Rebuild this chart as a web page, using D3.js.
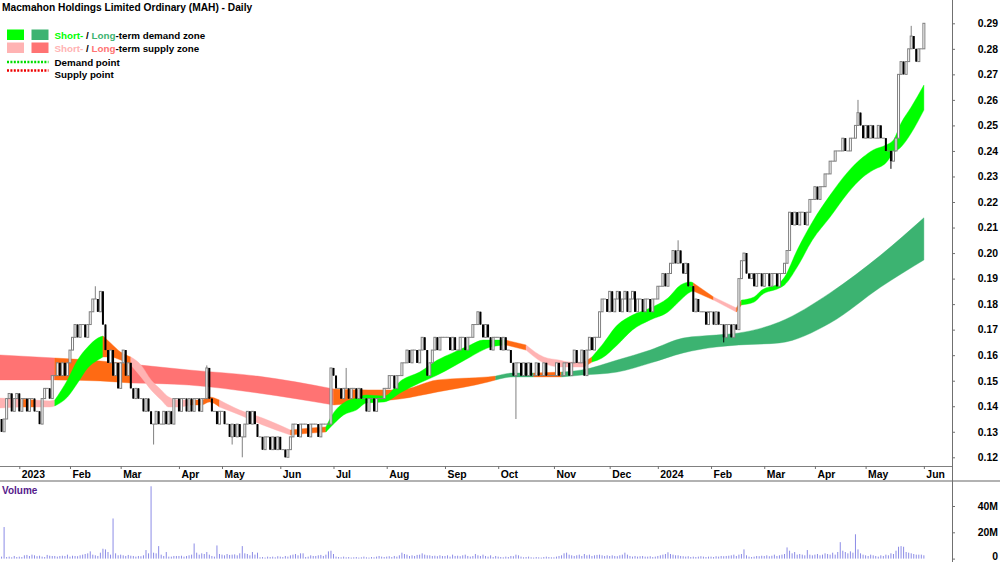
<!DOCTYPE html>
<html>
<head>
<meta charset="utf-8">
<script src="https://cdn.jsdelivr.net/npm/d3@7"></script>
<style>
  body { margin: 0; background: #fff; }
  svg { display: block; font-family: "Liberation Sans", Arial, sans-serif; font-weight: bold; }
</style>
</head>
<body>
<svg id="chart" width="1000" height="562"></svg>
<script>
// trading-day index 0 = 3 Jan 2023, bars start at -7 (late Dec 2022)
var firstDay = -7;
var firstOpen = 0.135;

// daily closes, one line per month
var closes = [
  .130,.135,.143,.145,.138,.143,.145,                                                        // Dec 22
  .138,.143,.143,.138,.143,.143,.138,.138,.133,.143,.147,.147,.143,.152,.152,.157,.152,.157,.152,.157, // Jan
  .162,.167,.172,.167,.172,.172,.167,.172,.177,.182,.182,.177,.185,.172,.162,.157,.162,.152,.157,.147, // Feb
  .157,.162,.152,.157,.147,.143,.147,.143,.143,.138,.143,.138,.133,.133,.138,.133,.133,.138,.133,.138,.133,.143,.143, // Mar
  .138,.143,.143,.138,.143,.138,.143,.143,.138,.143,.143,.155,.143,.138,.138,.133,.138,      // Apr
  .138,.133,.133,.128,.133,.128,.133,.128,.128,.133,.138,.133,.138,.133,.128,.128,.123,.128,.128,.123,.128,.123,.128, // May
  .123,.123,.120,.123,.128,.133,.133,.128,.133,.133,.133,.128,.133,.133,.133,.128,.133,.133,.133,.133,.155, // Jun
  .152,.147,.147,.143,.147,.147,.143,.147,.147,.143,.147,.143,.143,.138,.143,.143,.138,.143,.143,.143,.147, // Jul
  .147,.152,.152,.147,.152,.152,.157,.157,.162,.157,.162,.162,.157,.162,.167,.162,.152,.157,.162,.167,.162,.167,.167, // Aug
  .167,.167,.162,.167,.162,.162,.167,.167,.162,.167,.167,.172,.172,.177,.172,.167,.172,.167,.162,.167,.167, // Sep
  .167,.162,.167,.162,.162,.157,.152,.157,.157,.152,.157,.152,.157,.152,.152,.157,.152,.152,.157,.152,.152,.152, // Oct
  .152,.157,.152,.152,.157,.157,.152,.157,.162,.157,.157,.162,.152,.162,.167,.162,.167,.167,.177,.182,.182,.177, // Nov
  .185,.177,.182,.185,.177,.182,.185,.177,.182,.185,.177,.182,.182,.177,.182,.182,.177,.182,.182, // Dec
  .187,.187,.192,.187,.192,.196,.201,.196,.201,.196,.192,.196,.187,.187,.177,.182,.177,.177,.177,.172,.177, // Jan 24
  .177,.172,.177,.172,.172,.167,.172,.172,.167,.172,.170,.190,.197,.200,.192,.190,.192,.187,.192,.192,.187, // Feb
  .192,.192,.187,.192,.192,.187,.192,.192,.196,.201,.216,.211,.216,.211,.216,.216,.211,.216,.221,.221, // Mar
  .226,.221,.226,.226,.231,.231,.236,.236,.240,.240,.240,.245,.240,.240,.245,.245,.250,.255,.250,.245, // Apr
  .250,.245,.250,.245,.245,.250,.245,.245,.240,.240,.236,.240,.245,.270,.275,.270,.275,.280,.285,.280,.275,.280,.280, // May
  .290                                                                                        // Jun
];

// wicks beyond the body
var spikeDays  = [30, 53, 74, 84, 88, 129, 196, 260, 278, 331, 344, 352];
var spikeHighs = [0.187, null, 0.156, null, null, 0.155, null, 0.205, null, 0.26, null, 0.289];
var spikeLows  = [null, 0.125, null, 0.125, 0.120, null, 0.135, null, 0.165, null, 0.233, null];

// volume in millions
var volumes = [
  1.5,24,1.2,1.5,1.0,2.0,1.2,
  1.5,1.2,2.5,2.8,2.0,3.0,2.5,1.8,2.2,1.5,1.2,2.8,2.2,2.0,2.0,1.5,2.0,2.2,2.0,3.0,
  1.5,2.2,2.0,1.8,2.5,3.0,3.5,4.0,5.5,3.0,2.5,2.0,4.5,7.5,7.0,5.0,3.0,30.5,4.0,2.5,
  3.0,2.5,2.0,2.8,2.2,2.0,1.5,2.0,1.8,2.5,6.5,4.0,55,4.5,4.0,9.5,3.0,2.0,5.0,1.5,1.5,2.0,2.0,
  2.0,2.2,1.5,2.0,2.5,3.0,11.5,4.5,3.0,4.0,3.5,5.0,3.0,2.0,1.5,10.0,3.5,
  3.0,2.5,3.5,2.8,3.0,3.2,2.5,4.0,9.5,4.0,3.5,2.5,5.0,3.0,4.5,1.0,1.2,0.8,1.5,1.2,1.5,1.0,1.8,
  1.5,1.2,2.0,1.5,2.5,3.0,3.5,2.5,4.0,4.0,1.2,1.5,2.5,2.0,2.0,2.5,2.8,2.0,3.0,5.5,6.0,
  3.5,1.5,1.2,1.0,1.5,1.0,1.2,0.8,1.0,1.2,0.8,1.0,1.5,1.0,0.8,1.2,1.0,1.5,2.0,1.5,1.2,
  1.5,1.8,1.2,2.0,1.5,2.5,4.5,3.5,3.0,2.0,2.5,2.0,2.8,3.0,4.0,3.0,2.5,2.5,2.0,2.2,1.8,2.5,2.0,
  2.0,2.5,1.5,3.0,2.0,2.2,1.8,2.5,3.0,2.0,1.5,2.0,3.5,2.5,2.0,3.0,2.0,1.5,2.5,1.2,2.0,
  1.5,1.2,1.0,1.5,1.2,2.0,1.8,3.0,2.5,1.5,1.0,1.2,1.5,1.0,0.8,1.2,1.0,0.8,1.2,1.5,1.2,1.0,
  1.0,1.5,2.0,2.5,4.0,4.5,3.0,2.5,2.0,2.5,3.0,2.0,3.5,2.5,3.0,2.0,2.5,2.8,3.0,2.5,2.0,2.5,
  2.0,2.5,2.0,1.8,2.5,3.0,4.5,3.0,2.0,1.5,2.0,1.5,1.8,2.0,1.5,1.5,1.8,1.2,1.5,
  2.0,2.5,3.0,3.5,4.8,3.5,3.0,2.5,2.5,2.0,1.8,1.5,1.8,1.2,1.5,1.2,1.5,1.8,1.5,1.2,1.5,
  1.5,1.2,1.8,1.5,2.0,1.8,2.0,2.2,2.5,3.0,2.0,3.0,3.5,7.0,2.5,1.5,1.2,1.5,2.0,1.8,2.2,
  2.0,2.5,1.8,2.2,3.0,2.0,2.5,3.0,3.5,8.5,6.0,4.0,5.0,3.0,3.5,3.0,2.5,6.5,3.0,2.5,
  3.0,3.5,2.5,3.0,4.0,3.5,3.0,4.5,3.0,5.0,12.5,6.0,5.0,4.0,5.5,4.5,18.5,7.0,4.0,3.0,
  2.5,2.0,3.0,2.5,2.0,1.5,2.5,2.0,3.0,2.5,4.0,3.5,6.0,9.0,9.5,9.0,5.0,4.5,4.0,3.5,3.0,3.0,3.0,
  2.5
];

// short-term zone edges (sampled)
var stDays = [-8,0,6,12,14,19,23,27,31,33,36,40,44,48,52,56,59,63,67,72,75,79,87,96,107,115,121,124,128,133,137,144,151,158,165,171,178,183,186,192,200,207,213,217,223,226,230,236,242,249,256,261,265,266,274,283,285,290,293,300,302,307,313,320,327,333,337,342,345,348,352,357];
var stTop = [.1432,.1428,.1424,.1421,.1424,.1503,.1581,.1632,.1667,.1675,.1648,.1612,.1593,.1562,.1503,.1464,.1436,.1424,.1424,.1424,.1436,.1424,.1385,.1354,.1307,.1315,.1319,.1374,.1413,.1432,.1444,.1440,.1503,.1534,.1581,.1609,.1640,.1659,.1659,.1659,.1640,.1593,.1581,.1573,.1573,.1593,.1640,.1718,.1757,.1785,.1824,.1875,.1887,.1883,.1828,.1785,.1816,.1828,.1855,.1883,.1906,.2012,.2122,.2227,.2318,.2376,.2404,.2423,.2443,.2509,.2572,.2658];
var stBot = [.1393,.1397,.1397,.1397,.1401,.1436,.1491,.1550,.1581,.1593,.1593,.1581,.1562,.1515,.1464,.1424,.1397,.1397,.1405,.1405,.1417,.1397,.1366,.1327,.1287,.1295,.1299,.1330,.1366,.1385,.1413,.1417,.1456,.1491,.1522,.1554,.1593,.1620,.1632,.1640,.1620,.1569,.1554,.1554,.1554,.1573,.1589,.1640,.1699,.1738,.1769,.1816,.1848,.1851,.1816,.1769,.1797,.1808,.1836,.1863,.1875,.1945,.2051,.2141,.2235,.2298,.2325,.2353,.2392,.2415,.2470,.2560];
// d = demand, s = supply, n = neutral
var stRuns = [[-8,0,"s"],[0,6,"n"],[6,14,"s"],[14,33,"d"],[33,44,"n"],[44,67,"s"],[67,79,"n"],[79,107,"s"],[107,121,"n"],[121,192,"d"],[192,200,"n"],[200,223,"s"],[223,226,"n"],[226,266,"d"],[266,274,"n"],[274,283,"s"],[283,285,"n"],[285,357,"d"]];

// long-term zone edges (sampled)
var ltDays = [-8,14,32,44,67,94,124,138,150,165,185,188,195,203,214,222,236,249,262,275,284,300,320,340,357];
var ltTop = [.1601,.1589,.1577,.1565,.1542,.1518,.1468,.1464,.1464,.1503,.1515,.1518,.1530,.1530,.1534,.1542,.1581,.1620,.1667,.1679,.1687,.1730,.1844,.1992,.2138];
var ltBot = [.1503,.1503,.1499,.1491,.1483,.1452,.1405,.1417,.1428,.1456,.1495,.1503,.1515,.1515,.1515,.1522,.1534,.1569,.1609,.1632,.1640,.1648,.1726,.1867,.1973];
var ltRuns = [[-8,14,"s"],[14,44,"n"],[44,124,"s"],[124,188,"n"],[188,203,"d"],[203,214,"n"],[214,357,"d"]];

var monthTicks = [0,20,40,63,80,103,124,145,168,189,211,233,252,273,294,314,334,357];
var monthLabels = ["2023","Feb","Mar","Apr","May","Jun","Jul","Aug","Sep","Oct","Nov","Dec","2024","Feb","Mar","Apr","May","Jun"];
var priceTicks = [0.12,0.13,0.14,0.15,0.16,0.17,0.18,0.19,0.20,0.21,0.22,0.23,0.24,0.25,0.26,0.27,0.28,0.29];
var volumeTicks = [0, 20, 40];

var stColours = {d: "#00ff00", s: "#ffb3b3", n: "#ff6a13"};
var ltColours = {d: "#3cb371", s: "#ff7373", n: "#ff6a13"};

var svg = d3.select("#chart");
var x = d3.scaleLinear().domain([-7.62, 368.1]).range([0, 952]);
var y = d3.scaleLinear().domain([0.12, 0.29]).range([457.3, 23.3]);
var yv = d3.scaleLinear().domain([0, 40]).range([558.6, 506]);

svg.append("defs").append("clipPath").attr("id", "plotclip")
  .append("rect").attr("x", 0).attr("y", 0).attr("width", 952).attr("height", 466);
var plot = svg.append("g").attr("clip-path", "url(#plotclip)");

function drawZone(days, tops, bots, runs, colours) {
  var area = d3.area()
    .x(function(p){ return x(p[0]); })
    .y0(function(p){ return y(p[2]); })
    .y1(function(p){ return y(p[1]); })
    .curve(d3.curveMonotoneX);
  runs.forEach(function(r){
    var pts = days.map(function(d, k){ return [d, tops[k], bots[k]]; })
                  .filter(function(p){ return p[0] >= r[0] && p[0] <= r[1]; });
    plot.append("path").attr("d", area(pts))
      .attr("fill", colours[r[2]]).attr("stroke", colours[r[2]]).attr("stroke-width", 0.4);
  });
}
drawZone(ltDays, ltTop, ltBot, ltRuns, ltColours);
drawZone(stDays, stTop, stBot, stRuns, stColours);

// bars
var bars = closes.map(function(c, k){
  var d = firstDay + k;
  var o = k === 0 ? firstOpen : closes[k - 1];
  var hi = Math.max(o, c), lo = Math.min(o, c);
  var s = spikeDays.indexOf(d);
  if (s >= 0) {
    if (spikeHighs[s] != null) hi = Math.max(hi, spikeHighs[s]);
    if (spikeLows[s] != null) lo = Math.min(lo, spikeLows[s]);
  }
  return {d: d, o: o, c: c, hi: hi, lo: lo, v: volumes[k]};
});

bars.forEach(function(b){
  var cx = x(b.d);
  var up = b.c >= b.o;
  var col = up ? "#808080" : "#000";
  if (b.hi > b.lo) {
    plot.append("line").attr("x1", cx).attr("x2", cx)
      .attr("y1", y(b.hi)).attr("y2", y(b.lo)).attr("stroke", col).attr("stroke-width", 1);
  }
  var top = y(Math.max(b.o, b.c)), h = Math.abs(y(b.o) - y(b.c));
  if (h < 1) {
    plot.append("line").attr("x1", cx - 1.5).attr("x2", cx + 1.5)
      .attr("y1", top).attr("y2", top).attr("stroke", col).attr("stroke-width", 1);
  } else if (up) {
    plot.append("rect").attr("x", cx - 1).attr("y", top).attr("width", 2).attr("height", h)
      .attr("fill", "#fff").attr("stroke", "#808080").attr("stroke-width", 1);
  } else {
    plot.append("rect").attr("x", cx - 1).attr("y", top).attr("width", 2).attr("height", h)
      .attr("fill", "#000");
  }
});

// volume
svg.append("g").selectAll("line").data(bars).enter().append("line")
  .attr("x1", function(b){ return x(b.d); }).attr("x2", function(b){ return x(b.d); })
  .attr("y1", yv(0)).attr("y2", function(b){ return yv(b.v); })
  .attr("stroke", "#8c8ce6").attr("stroke-width", 1);

// frame lines
svg.append("line").attr("x1", 0).attr("x2", 952).attr("y1", 466.5).attr("y2", 466.5).attr("stroke", "#808080");
svg.append("line").attr("x1", 0).attr("x2", 1000).attr("y1", 481).attr("y2", 481).attr("stroke", "#999").attr("stroke-width", 1.5);
svg.append("line").attr("x1", 952.5).attr("x2", 952.5).attr("y1", 0).attr("y2", 562).attr("stroke", "#707070");

// price axis
var pAxis = svg.append("g").attr("transform", "translate(952,0)")
  .call(d3.axisRight(y).tickValues(priceTicks).tickSize(3).tickFormat(d3.format(".2f")));
// volume axis
var vAxis = svg.append("g").attr("transform", "translate(952,0)")
  .call(d3.axisRight(yv).tickValues(volumeTicks).tickSize(3)
    .tickFormat(function(d){ return d ? d + "M" : "0"; }));
[pAxis, vAxis].forEach(function(a){
  a.select(".domain").remove();
  a.selectAll(".tick line").attr("stroke", "#707070");
  a.selectAll(".tick text").attr("x", 46).attr("text-anchor", "end")
    .attr("font-size", "10.4px").attr("font-family", null).attr("fill", "#000");
});
// keep the bottom "0" inside the picture
vAxis.selectAll(".tick text").filter(function(d){ return d === 0; }).attr("dy", "0.12em");

// date axis
var dAxis = svg.append("g").attr("transform", "translate(0,466)")
  .call(d3.axisBottom(x).tickValues(monthTicks).tickSize(3)
    .tickFormat(function(d, i){ return monthLabels[i]; }));
dAxis.select(".domain").remove();
dAxis.selectAll(".tick line").attr("stroke", "#707070");
dAxis.selectAll(".tick text").attr("x", 2).attr("y", 11.5).attr("dy", 0)
  .attr("text-anchor", "start").attr("font-size", "10.4px").attr("font-family", null).attr("fill", "#000");

// title
svg.append("text").attr("x", 2).attr("y", 11).attr("font-size", "10.2px")
  .text("Macmahon Holdings Limited Ordinary (MAH) - Daily");

// legend
var lg = svg.append("g").attr("font-size", "9.8px");
lg.append("rect").attr("x", 7).attr("y", 29.5).attr("width", 17).attr("height", 10.5).attr("fill", stColours.d);
lg.append("rect").attr("x", 31.5).attr("y", 29.5).attr("width", 17).attr("height", 10.5).attr("fill", ltColours.d);
lg.append("rect").attr("x", 7).attr("y", 42.5).attr("width", 17).attr("height", 10.5).attr("fill", stColours.s);
lg.append("rect").attr("x", 31.5).attr("y", 42.5).attr("width", 17).attr("height", 10.5).attr("fill", ltColours.s);
lg.append("line").attr("x1", 7).attr("x2", 48.5).attr("y1", 62).attr("y2", 62)
  .attr("stroke", "#00dd00").attr("stroke-width", 2.5).attr("stroke-dasharray", "2,1.4");
lg.append("line").attr("x1", 7).attr("x2", 48.5).attr("y1", 70.5).attr("y2", 70.5)
  .attr("stroke", "#ee0000").attr("stroke-width", 2.5).attr("stroke-dasharray", "2,1.4");

function legendLine(yy, parts) {
  var t = lg.append("text").attr("x", 54.5).attr("y", yy);
  parts.forEach(function(p){ t.append("tspan").attr("fill", p[1]).text(p[0]); });
}
legendLine(38.5, [["Short-", stColours.d], [" / ", "#000"], ["Long", ltColours.d], ["-term demand zone", "#000"]]);
legendLine(51.5, [["Short-", stColours.s], [" / ", "#000"], ["Long", ltColours.s], ["-term supply zone", "#000"]]);
legendLine(65.5, [["Demand point", "#000"]]);
legendLine(77.5, [["Supply point", "#000"]]);

svg.append("text").attr("x", 2).attr("y", 494).attr("font-size", "10px").attr("fill", "#551a8b").text("Volume");
</script>
</body>
</html>
